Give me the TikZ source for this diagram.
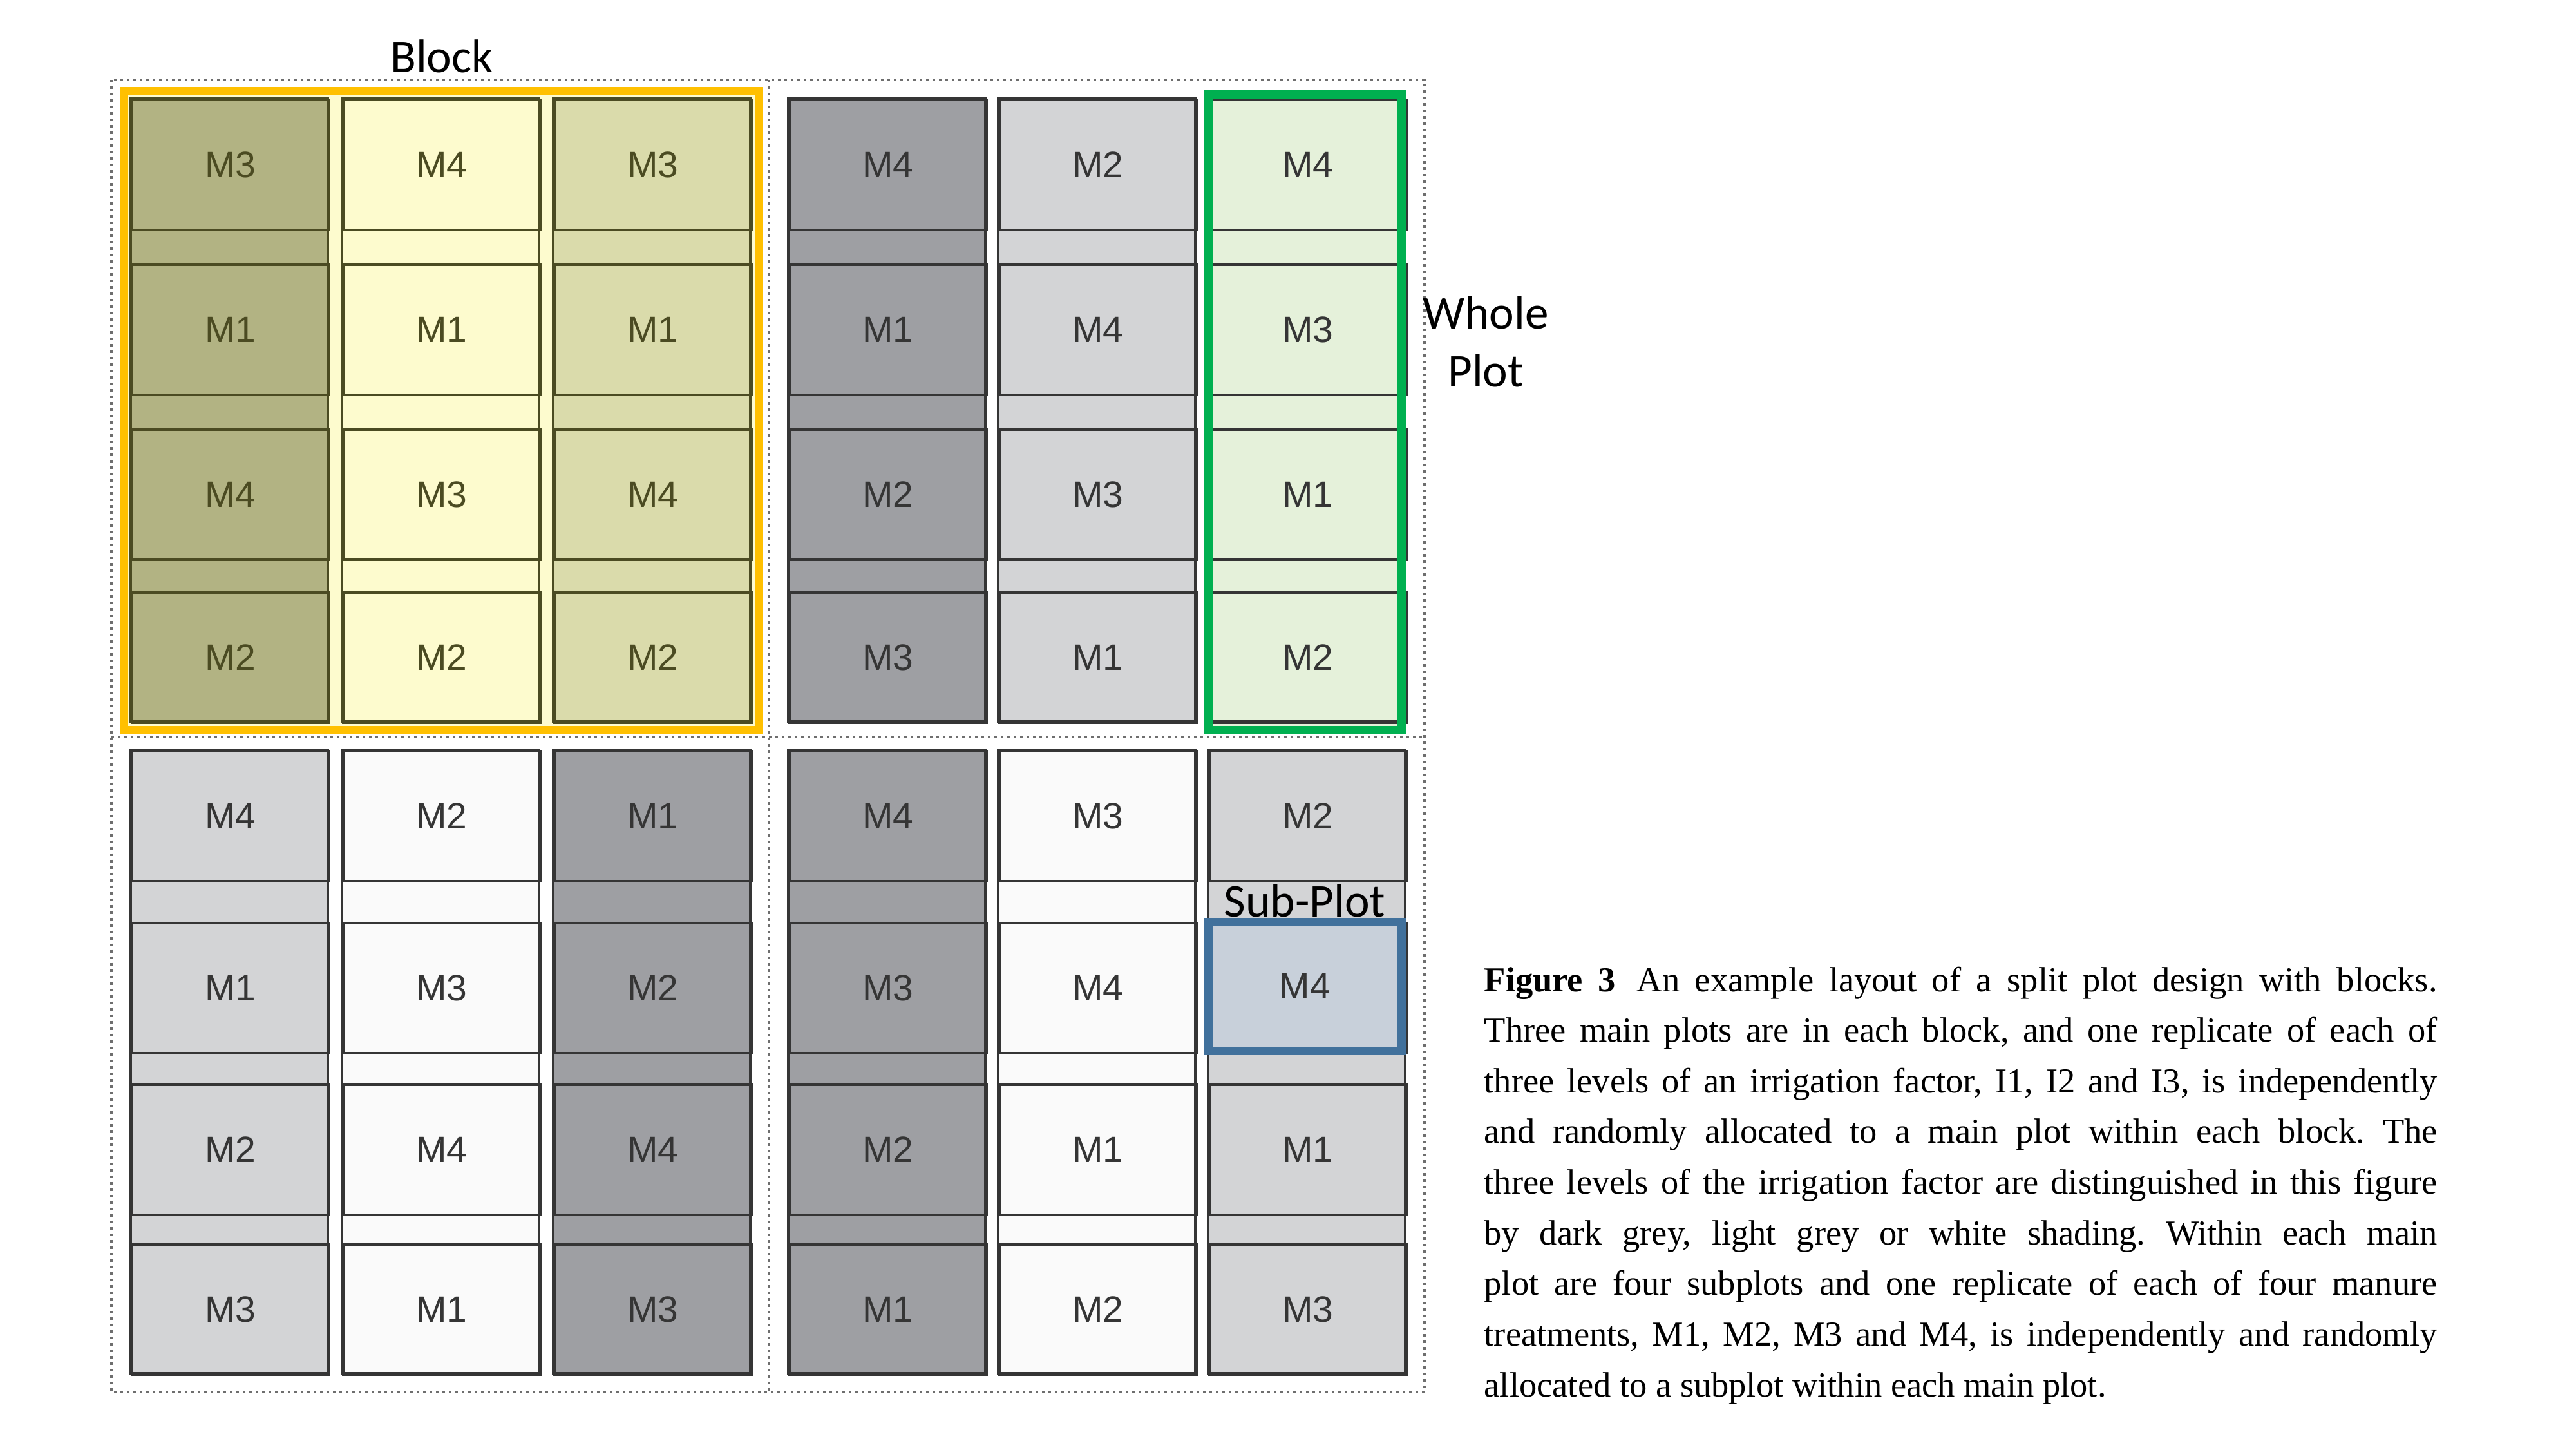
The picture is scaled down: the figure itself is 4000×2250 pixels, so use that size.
\documentclass[tikz,border=0pt]{standalone}
\usepackage{fontspec}
\setmainfont{Liberation Serif}
\newfontfamily\labelfont{Liberation Sans}
\newfontfamily\notefont{Carlito}
\usetikzlibrary{positioning}

\definecolor{olivecell}{HTML}{B2B383}
\definecolor{yellowcell}{HTML}{FDFBCE}
\definecolor{palecell}{HTML}{DADBAB}
\definecolor{darkcell}{HTML}{9E9FA3}
\definecolor{lightcell}{HTML}{D3D4D6}
\definecolor{whitecell}{HTML}{FAFAFA}
\definecolor{greencell}{HTML}{E5F1DA}
\definecolor{subcell}{HTML}{C8D0DA}
\definecolor{oliveline}{HTML}{4B4B22}
\definecolor{greyline}{HTML}{353535}
\definecolor{gridgrey}{HTML}{6E6E6E}
\definecolor{frameorange}{HTML}{FFC000}
\definecolor{framegreen}{HTML}{00B050}
\definecolor{frameblue}{HTML}{41719C}

\begin{document}
\begin{tikzpicture}[x=0.01cm, y=-0.01cm,
    sub/.style={draw=#1, text=#1, line width=1pt, anchor=north west, inner sep=0pt,
        minimum width=3.06cm, minimum height=2.02cm,
        font=\labelfont\fontsize{16.2}{18}\selectfont},
    note/.style={inner sep=0pt, font=\notefont\fontsize{20.8}{25.4}\selectfont},
    grid/.style={draw=gridgrey, line width=0.04cm, dash pattern=on 0.04cm off 0.06cm},
    frame/.style={line width=0.13cm}]
    \useasboundingbox (0,0) rectangle (4000,2250);

    % blocks
    \draw[grid] (173,124) rectangle (2212,2161);
    \draw[grid] (1194,124) -- (1194,2161);
    \draw[grid] (173,1144) -- (2212,1144);
    \fill[yellowcell] (192.5,141.5) rectangle (1178.5,1133.5);
    \fill[greencell] (1876.5,146.5) rectangle (2176.5,1133.5);

    % main plots and their sub-plots, one row of blocks at a time
    \foreach \py/\rb/\rc/\rd/\cols [count=\k] in {
        153/256/512/765/{
            203/olivecell/oliveline/M3/M1/M4/M2,
            531/yellowcell/oliveline/M4/M1/M3/M2,
            859/palecell/oliveline/M3/M1/M4/M2,
            1224/darkcell/greyline/M4/M1/M2/M3,
            1550/lightcell/greyline/M2/M4/M3/M1,
            1876/greencell/greyline/M4/M3/M1/M2},
        1164/267/518/766/{
            203/lightcell/greyline/M4/M1/M2/M3,
            531/whitecell/greyline/M2/M3/M4/M1,
            859/darkcell/greyline/M1/M2/M4/M3,
            1224/darkcell/greyline/M4/M3/M2/M1,
            1550/whitecell/greyline/M3/M4/M1/M2,
            1876/lightcell/greyline/M2/M4/M1/M3}}
    {
        \foreach \px/\fc/\lc/\sa/\sb/\sc/\sd [count=\i] in \cols {
            \filldraw[fill=\fc, draw=\lc, line width=1pt] (\px,\py) rectangle ++(306,\rd+202);
            \foreach \m/\oy [count=\j] in {\sa/0,\sb/\rb,\sc/\rc,\sd/\rd}
                \node[sub=\lc] (p\k-\i-\j) at (\px,\py+\oy) {\m};
        }
    }

    % marked sub-plot
    \node[sub=frameblue, fill=subcell, text=greyline, line width=0.13cm, outer sep=0pt,
        minimum width=3.0cm, minimum height=2.0cm] (pick) at (p2-6-2.north west) {M4};

    % marked block and whole plot
    \draw[frame, frameorange] (192.5,141.5) rectangle (1178.5,1133.5);
    \draw[frame, framegreen] (1876.5,146.5) rectangle (2176.5,1133.5);

    \node[note, anchor=base] (blk) at (686,112) {Block};
    \node[note, anchor=base, align=center] (whole) at (2307,600) {Whole\\Plot};
    \node[note, above=0.065cm of pick] (subl) {Sub-Plot};

    % caption
    \node[anchor=base west, inner sep=0pt, text width=14.79cm, align=justify,
        font=\fontsize{15.5}{22.36}\selectfont\frenchspacing] (cap) at (2304,1539)
        {\textbf{Figure 3}\hspace{0.6em}An example layout of a split plot design with blocks.\linebreak
        Three main plots are in each block, and one replicate of each of\linebreak
        three levels of an irrigation factor, I1, I2 and I3, is independently\linebreak
        and randomly allocated to a main plot within each block. The\linebreak
        three levels of the irrigation factor are distinguished in this figure\linebreak
        by dark grey, light grey or white shading. Within each main\linebreak
        plot are four subplots and one replicate of each of four manure\linebreak
        treatments, M1, M2, M3 and M4, is independently and randomly\linebreak
        allocated to a subplot within each main plot.};
\end{tikzpicture}
\end{document}
